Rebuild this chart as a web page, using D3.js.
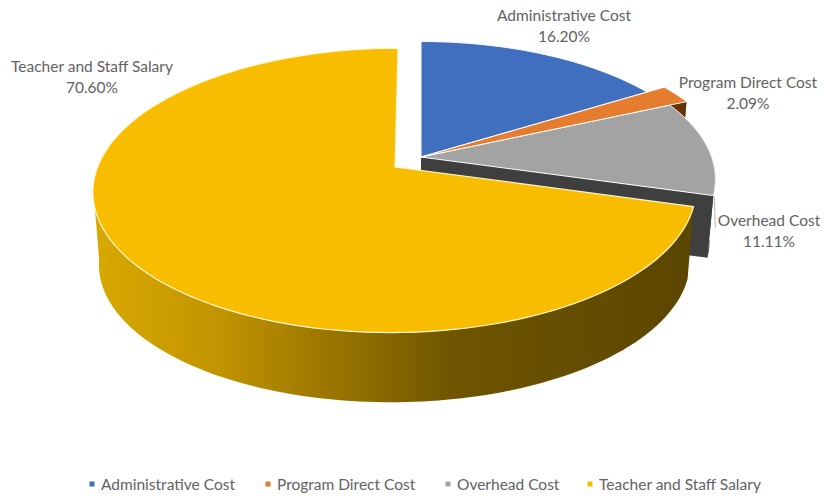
<!DOCTYPE html>
<html>
<head>
<meta charset="utf-8">
<script src="https://cdnjs.cloudflare.com/ajax/libs/d3/7.8.5/d3.min.js"></script>
<style>
  html, body { margin: 0; padding: 0; background: #fff; }
  text { font-family: Lato, "Noto Sans", sans-serif; fill: #626262; }
</style>
</head>
<body>
<svg id="chart" width="824" height="496"></svg>
<script>
// Budget shares, in percent
const categories = ["Administrative Cost", "Program Direct Cost", "Overhead Cost", "Teacher and Staff Salary"];
const shares = [16.20, 2.09, 11.11, 70.60];
const shareLabels = ["16.20%", "2.09%", "11.11%", "70.60%"];
const topColors = ["#3f6fbe", "#e67c2e", "#a3a3a3", "#f9bd00"];
const sideColors = ["#2c4f8a", "#6a3209", "#3f3f3f", "url(#wallShade)"];

// Where each wedge sits on the tilted plane: pivot, radius factor and lean
const pivots = [
  { x: 421, y: 157, r: 0.966, lean: 0 },
  { x: 421, y: 157, r: 1.045, lean: 0 },
  { x: 421, y: 157, r: 0.975, lean: 0 },
  { x: 395, y: 167, r: 0.998, lean: -3.5 }
];
const labelSpots = [
  { x: 564, y: 21 }, { x: 748, y: 88 }, { x: 769, y: 226 }, { x: 92, y: 72 }
];
const legendX = [92, 268, 448, 590];

// Perspective constants of the disc
const planeRx = 298, planeRy = 138.6, recede = 0.165, shrink = 0.98;
const depthOf = [63, 63, 63, 73];

const svg = d3.select("#chart");

// Side-wall shading runs left to right, lit at the far left
const grad = svg.append("defs").append("linearGradient")
  .attr("id", "wallShade").attr("gradientUnits", "userSpaceOnUse")
  .attr("x1", 94).attr("x2", 692).attr("y1", 0).attr("y2", 0);
[[0, "#d8a900"], [0.2, "#c39500"], [0.45, "#8f6d00"], [0.6, "#6f5500"], [1, "#5b4600"]]
  .forEach(([o, c]) => grad.append("stop").attr("offset", o).attr("stop-color", c));

const arcs = d3.pie().sort(null).value(d => d)(shares);
const line = d3.line();

// Project polar coordinates on the disc to the screen, relative to the pivot
function project(i, theta, r) {
  const u = Math.sin(theta) * r, v = -Math.cos(theta) * r;
  const s = 1 / (1 - recede * v);
  return [(planeRx * u + pivots[i].lean * v) * s, planeRy * v * s];
}
const upper = (i, th) => {
  const p = project(i, th, pivots[i].r);
  return [pivots[i].x + p[0], pivots[i].y + p[1]];
};
const lower = (i, th) => {
  const p = project(i, th, pivots[i].r);
  return [pivots[i].x + p[0] * shrink, pivots[i].y + depthOf[i] + p[1] * shrink];
};
const sweep = (a, b) => d3.range(0, 121).map(k => a + (b - a) * k / 120);

function topFace(i) {
  const a = arcs[i];
  return line([[pivots[i].x, pivots[i].y], ...sweep(a.startAngle, a.endAngle).map(t => upper(i, t))]) + "Z";
}
function rimWall(i, a, b) {
  const ts = sweep(a, b);
  return line([...ts.map(t => upper(i, t)), ...ts.slice().reverse().map(t => lower(i, t))]) + "Z";
}
function cutWall(i, th) {
  return line([[pivots[i].x, pivots[i].y], upper(i, th), lower(i, th),
               [pivots[i].x, pivots[i].y + depthOf[i]]]) + "Z";
}

const layer = svg.append("g");

// Back wedges first: their walls sit below the tops of the nearer ones
layer.append("path").attr("d", rimWall(1, arcs[1].startAngle, arcs[1].endAngle)).attr("fill", sideColors[1]);
layer.append("path").attr("d", cutWall(1, arcs[1].endAngle)).attr("fill", sideColors[1]);
layer.append("path").attr("d", rimWall(2, arcs[2].startAngle, arcs[2].endAngle)).attr("fill", sideColors[2]);
layer.append("path").attr("d", cutWall(2, arcs[2].endAngle)).attr("fill", sideColors[2]);

[0, 2, 1].forEach(i => {
  layer.append("path").attr("d", topFace(i)).attr("fill", topColors[i])
    .attr("stroke", "#fff").attr("stroke-width", 1).attr("stroke-linejoin", "round");
});

// The large detached wedge: curved front wall, then its top
const frontLimit = 262 * Math.PI / 180;
layer.append("path").attr("d", rimWall(3, arcs[3].startAngle, frontLimit))
  .attr("fill", sideColors[3]);
layer.append("path").attr("d", topFace(3)).attr("fill", topColors[3])
  .attr("stroke", "#fff6d0").attr("stroke-width", 1.2).attr("stroke-linejoin", "round");

// Leader from the overhead wedge to its label
const lead = upper(2, arcs[2].endAngle);
svg.append("path").attr("d", line([[lead[0] + 1, lead[1] + 2], [lead[0] + 2, lead[1] + 32]]))
  .attr("stroke", "#b5b5b5").attr("fill", "none");

// Data labels: name over percentage
categories.forEach((name, i) => {
  const t = svg.append("text").attr("text-anchor", "middle").attr("font-size", 15.5);
  t.append("tspan").attr("x", labelSpots[i].x).attr("y", labelSpots[i].y).text(name);
  t.append("tspan").attr("x", labelSpots[i].x).attr("y", labelSpots[i].y + 21).text(shareLabels[i]);
});

// Legend row
const legend = svg.append("g").selectAll("g").data(categories).join("g")
  .attr("transform", (d, i) => `translate(${legendX[i]},484)`);
legend.append("rect").attr("x", -2.5).attr("y", -2.5).attr("width", 5).attr("height", 5)
  .attr("fill", (d, i) => topColors[i]);
legend.append("text").attr("x", 9).attr("y", 5.5).attr("font-size", 15.5).text(d => d);
</script>
</body>
</html>
